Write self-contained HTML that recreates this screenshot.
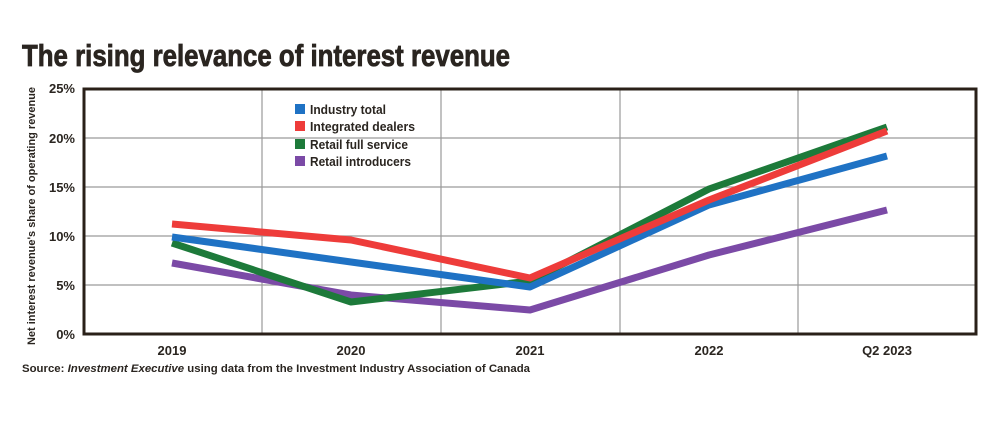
<!DOCTYPE html>
<html><head><meta charset="utf-8"><style>
html,body{margin:0;padding:0;background:#fff;}
svg{display:block;}
text{font-family:"Liberation Sans Narrow","Liberation Sans",sans-serif;font-weight:bold;fill:#2a2520;}
</style></head><body>
<svg width="1000" height="423" viewBox="0 0 1000 423" xmlns="http://www.w3.org/2000/svg">
<text x="22" y="66" font-size="31" textLength="488" lengthAdjust="spacingAndGlyphs" stroke="#2a2520" stroke-width="0.8">The rising relevance of interest revenue</text>
<g stroke="#9a9a9a" stroke-width="1.2">
<line x1="83" y1="138" x2="977" y2="138"/><line x1="83" y1="187" x2="977" y2="187"/>
<line x1="83" y1="236" x2="977" y2="236"/><line x1="83" y1="285" x2="977" y2="285"/>
<line x1="262" y1="88" x2="262" y2="334"/><line x1="441" y1="88" x2="441" y2="334"/>
<line x1="620" y1="88" x2="620" y2="334"/><line x1="798" y1="88" x2="798" y2="334"/>
</g>
<rect x="84" y="89" width="892" height="245" fill="none" stroke="#2a2018" stroke-width="3"/>
<g font-size="13" text-anchor="end">
<text x="75" y="93">25%</text><text x="75" y="143">20%</text><text x="75" y="192">15%</text>
<text x="75" y="241">10%</text><text x="75" y="290">5%</text><text x="75" y="339">0%</text>
</g>
<g font-size="13" text-anchor="middle">
<text x="172" y="355">2019</text><text x="351" y="355">2020</text><text x="530" y="355">2021</text>
<text x="709" y="355">2022</text><text x="887" y="355">Q2 2023</text>
</g>
<text transform="translate(35,216) rotate(-90)" font-size="11" text-anchor="middle" textLength="258" lengthAdjust="spacingAndGlyphs">Net interest revenue's share of operating revenue</text>
<text x="22" y="372" font-size="11" textLength="508" lengthAdjust="spacingAndGlyphs">Source: <tspan font-style="italic">Investment Executive</tspan> using data from the Investment Industry Association of Canada</text>
<g fill="none" stroke-width="7" stroke-linejoin="round">
<polyline stroke="#7b4aa6" points="172,263 351,295 530,310 709,255 887,210"/>
<polyline stroke="#1d7a3a" points="172,243 351,302 530,281 709,189 887,127"/>
<polyline stroke="#1f72c4" points="172,237 351,262 530,287 709,205 887,156"/>
<polyline stroke="#ee3c3a" points="172,224 351,240 530,278 709,200 887,131"/>
</g>
<g font-size="13">
<rect x="295" y="104" width="10" height="10" fill="#1f72c4"/><text x="310" y="114" textLength="76" lengthAdjust="spacingAndGlyphs">Industry total</text>
<rect x="295" y="121" width="10" height="10" fill="#ee3c3a"/><text x="310" y="131" textLength="105" lengthAdjust="spacingAndGlyphs">Integrated dealers</text>
<rect x="295" y="139" width="10" height="10" fill="#1d7a3a"/><text x="310" y="149" textLength="98" lengthAdjust="spacingAndGlyphs">Retail full service</text>
<rect x="295" y="156" width="10" height="10" fill="#7b4aa6"/><text x="310" y="166" textLength="101" lengthAdjust="spacingAndGlyphs">Retail introducers</text>
</g>
</svg>
</body></html>
